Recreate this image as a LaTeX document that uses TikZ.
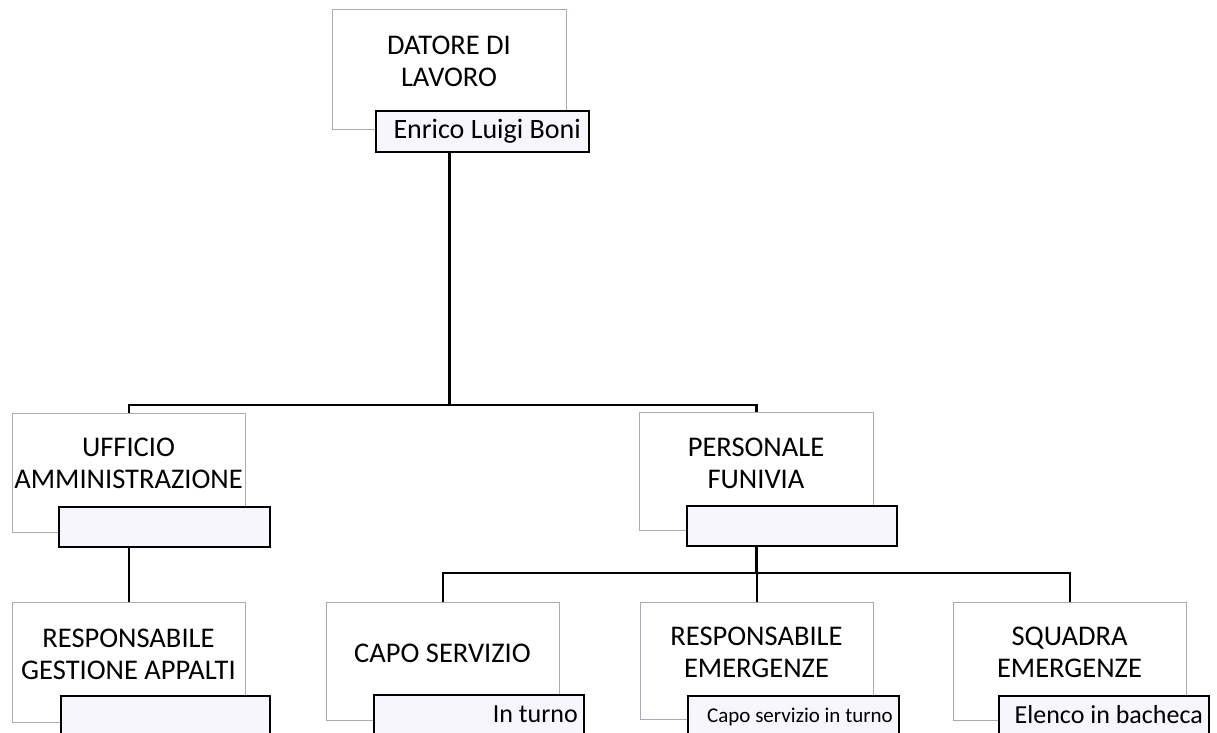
\documentclass[tikz,border=0pt]{standalone}
\usepackage{fontspec}
\setmainfont{Carlito}
\definecolor{namefill}{RGB}{246,246,252}
\definecolor{boxline}{RGB}{170,170,180}
\tikzset{
  bigbox/.style={draw=boxline, line width=1pt, fill=white, inner sep=0pt, anchor=north west},
  namebox/.style={draw=black, line width=2pt, fill=namefill, inner sep=0pt, anchor=north west},
  conn/.style={line width=2.6pt, black},
  bigtext/.style={font=\fontsize{28.5}{32.5}\selectfont, inner sep=0pt, anchor=base},
  nametext/.style={font=\fontsize{26}{30}\selectfont, inner sep=0pt, anchor=base east},
}
\begin{document}
\begin{tikzpicture}[x=1pt,y=-1pt]
\useasboundingbox (0,0) rectangle (1217,732);
\clip (0,0) rectangle (1217,732);
% boxes
\node[bigbox, minimum width=234, minimum height=120] (datore) at (332,9) {};
\node[namebox, minimum width=213, minimum height=41] (datoreN) at (375,110) {};
\node[bigbox, minimum width=233, minimum height=119] (ufficio) at (12,413) {};
\node[namebox, minimum width=211, minimum height=40] (ufficioN) at (58,506) {};
\node[bigbox, minimum width=233, minimum height=120] (respG) at (12,602) {};
\node[namebox, minimum width=209, minimum height=45] (respGN) at (60,695) {};
\node[bigbox, minimum width=234, minimum height=118] (personale) at (639,412) {};
\node[namebox, minimum width=210, minimum height=40] (personaleN) at (686,505) {};
\node[bigbox, minimum width=233, minimum height=118] (capo) at (326,602) {};
\node[namebox, minimum width=210, minimum height=45] (capoN) at (373,694) {};
\node[bigbox, minimum width=233, minimum height=117] (respE) at (640,602) {};
\node[namebox, minimum width=211, minimum height=45] (respEN) at (687,695) {};
\node[bigbox, minimum width=233, minimum height=118] (squadra) at (953,602) {};
\node[namebox, minimum width=210, minimum height=45] (squadraN) at (998,695) {};
% texts
\node[bigtext] (tDatore) at (449,54) {\begin{tabular}[t]{@{}c@{}}DATORE DI\\LAVORO\end{tabular}};
\node[nametext, font=\fontsize{28}{32}\selectfont] (tBoni) at (581,138) {Enrico Luigi Boni};
\node[bigtext] (tUfficio) at (128.5,456) {\begin{tabular}[t]{@{}c@{}}UFFICIO\\AMMINISTRAZIONE\end{tabular}};
\node[bigtext] (tPersonale) at (756,456) {\begin{tabular}[t]{@{}c@{}}PERSONALE\\FUNIVIA\end{tabular}};
\node[bigtext] (tRespG) at (128.5,647) {\begin{tabular}[t]{@{}c@{}}RESPONSABILE\\GESTIONE APPALTI\end{tabular}};
\node[bigtext] (tCapo) at (442.5,662) {CAPO SERVIZIO};
\node[bigtext] (tRespE) at (756.5,645) {\begin{tabular}[t]{@{}c@{}}RESPONSABILE\\EMERGENZE\end{tabular}};
\node[bigtext] (tSquadra) at (1069.5,645) {\begin{tabular}[t]{@{}c@{}}SQUADRA\\EMERGENZE\end{tabular}};
\node[nametext] (tTurno) at (578,722) {In turno};
\node[nametext, font=\fontsize{21}{25}\selectfont] (tCapoTurno) at (893,722) {Capo servizio in turno};
\node[nametext] (tElenco) at (1203,723) {Elenco in bacheca};
% connectors
\coordinate (bus1) at (0,405);
\coordinate (bus2) at (0,573);
\draw[conn] (datore.center |- datoreN.south) -- (datore.center |- bus1);
\draw[conn] (ufficio.north) |- (personale.north |- bus1) -- (personale.north);
\draw[conn] (ufficio.center |- ufficioN.south) -- (respG.north);
\draw[conn] (personale.center |- personaleN.south) -- (personale.center |- bus2);
\draw[conn] (capo.north) |- (squadra.north |- bus2) -- (squadra.north);
\draw[conn] (respE.north) -- (respE.north |- bus2);
\end{tikzpicture}
\end{document}
